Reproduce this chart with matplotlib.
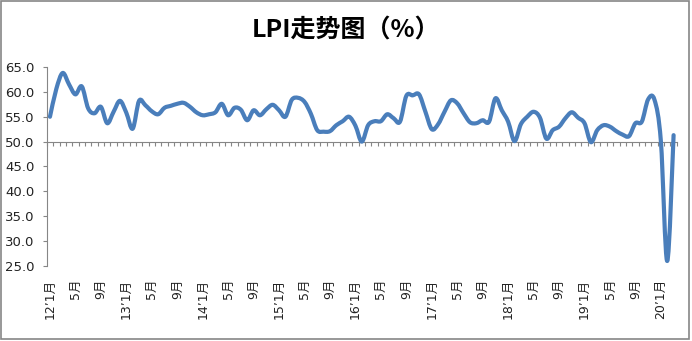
import numpy as np
import matplotlib.pyplot as plt
from matplotlib.path import Path
from matplotlib.patches import PathPatch, Rectangle

plt.rcParams['font.family'] = ['DejaVu Sans', 'Noto Sans CJK SC']

# monthly LPI, 2012-01 .. 2020-03
lpi = [55.0, 60.6, 63.8, 61.5, 59.5, 61.1, 56.7, 55.7, 57.0, 53.7, 56.0, 58.2,
       55.8, 52.6, 58.2, 57.3, 56.1, 55.5, 56.8, 57.2, 57.6, 57.8, 57.0, 55.9,
       55.3, 55.5, 55.9, 57.6, 55.3, 56.8, 56.4, 54.3, 56.3, 55.3, 56.5, 57.4,
       56.3, 55.0, 58.4, 58.8, 58.0, 55.6, 52.3, 52.0, 52.1, 53.3, 54.1, 55.0,
       53.2, 50.0, 53.3, 54.1, 54.1, 55.5, 54.7, 54.0, 59.2, 59.3, 59.5, 56.0,
       52.5, 53.5, 56.0, 58.3, 57.7, 55.7, 53.9, 53.7, 54.3, 54.0, 58.7, 56.3,
       54.0, 50.1, 53.5, 55.0, 56.0, 54.8, 50.6, 52.3, 53.0, 54.7, 55.9, 54.8,
       53.7, 49.9, 52.3, 53.3, 53.0, 52.1, 51.4, 51.1, 53.7, 54.0, 58.5, 58.4,
       50.1, 26.0, 51.3]
years = ['12', '13', '14', '15', '16', '17', '18', '19', '20']
yticks = [25.0, 30.0, 35.0, 40.0, 45.0, 50.0, 55.0, 60.0, 65.0]

x = np.arange(len(lpi))
y = np.array(lpi)

tick_labels = []
for yy in years:
    tick_labels += [yy + '’1月', '5月', '9月']
tick_labels = tick_labels[:25]
tick_pos = x[::4]


def smooth_path(xs, ys):
    # Excel-like smoothed line as cubic bezier segments
    verts = [(xs[0], ys[0])]
    codes = [Path.MOVETO]
    n = len(xs)
    for i in range(n - 1):
        i0 = max(i - 1, 0)
        i3 = min(i + 2, n - 1)
        c1 = (xs[i] + (xs[i + 1] - xs[i0]) / 6, ys[i] + (ys[i + 1] - ys[i0]) / 6)
        c2 = (xs[i + 1] - (xs[i3] - xs[i]) / 6, ys[i + 1] - (ys[i3] - ys[i]) / 6)
        verts += [c1, c2, (xs[i + 1], ys[i + 1])]
        codes += [Path.CURVE4] * 3
    return Path(verts, codes)


fig = plt.figure(figsize=(6.92, 3.41), dpi=100)
ax = fig.add_axes([0.0676, 0.22, 0.9104, 0.5835])

grey = '#868686'
ax.add_patch(PathPatch(smooth_path(x, y), fill=False, edgecolor='#4A7EBB',
                       lw=3.0, capstyle='round', joinstyle='round', zorder=3))

ax.set_xlim(-0.5, len(lpi) - 0.5)
ax.set_ylim(25, 65)
ax.set_yticks(yticks, [f'{v:.1f}' for v in yticks])
ax.tick_params(axis='y', labelsize=9.5, length=3, color=grey, pad=6, labelcolor='#222222')

ax.spines['top'].set_visible(False)
ax.spines['right'].set_visible(False)
ax.spines['left'].set_color(grey)
ax.spines['bottom'].set_color(grey)
ax.spines['bottom'].set_position(('data', 50))
ax.set_xticks(np.arange(-0.5, len(lpi), 1))
ax.tick_params(axis='x', length=3, color=grey, labelbottom=False)

sec = ax.secondary_xaxis('bottom')
sec.set_xticks(tick_pos, tick_labels, rotation=90)
sec.tick_params(length=0, pad=9, labelsize=9, labelcolor='#222222')
sec.spines['bottom'].set_visible(False)

fig.text(0.5, 0.91, 'LPI走势图（%）', ha='center', va='center',
         fontsize=18, fontweight='bold', family=['Noto Sans CJK SC', 'DejaVu Sans'])

fig.patches.append(Rectangle((0.002, 0.006), 0.993, 0.99, transform=fig.transFigure,
                             fill=False, edgecolor=grey, lw=1.2))

fig.savefig('out.png', dpi=100)
